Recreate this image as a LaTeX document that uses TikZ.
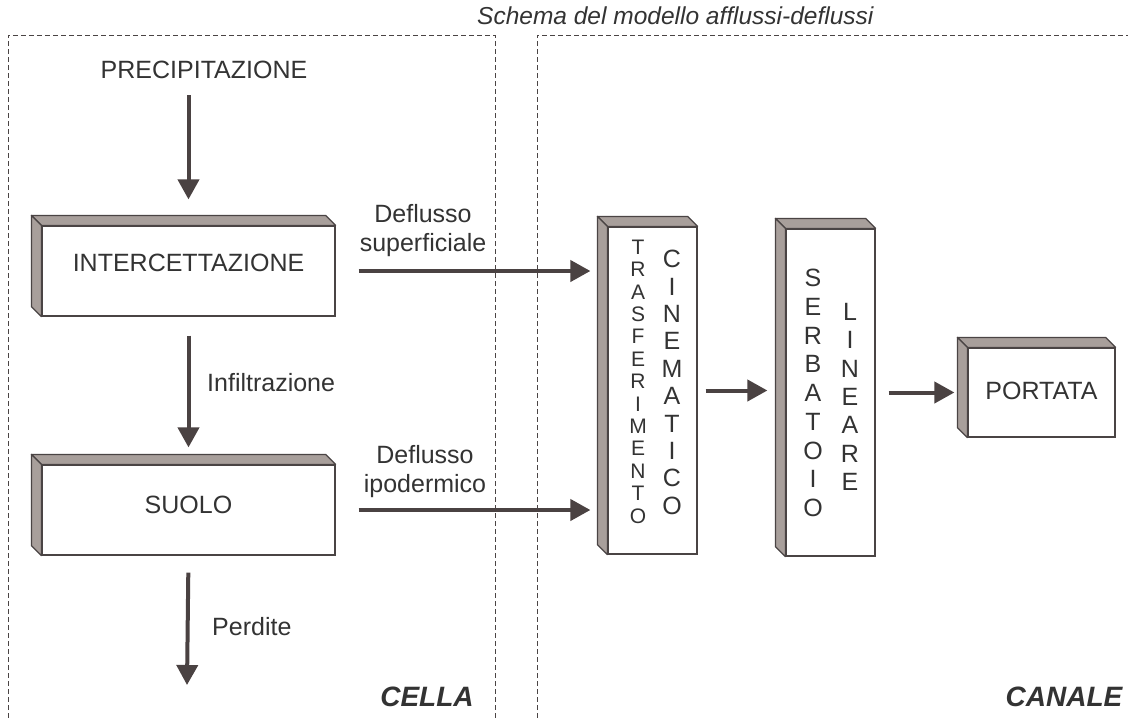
\documentclass[tikz,border=0pt]{standalone}
\usepackage{fontspec}
\setmainfont{Liberation Sans}
\usetikzlibrary{arrows.meta,calc}
\definecolor{txt}{HTML}{333333}
\definecolor{arrc}{HTML}{4A4242}
\definecolor{shd}{HTML}{A89F9B}
\definecolor{edgec}{HTML}{4A4444}
\newcommand\mkshadow[1]{%
  \filldraw[shadeface] (#1.north west) -- ++(-10,-10) -- ($(#1.north east)+(-10,-10)$) -- (#1.north east) -- cycle;
  \filldraw[shadeface] (#1.north west) -- ++(-10,-10) -- ($(#1.south west)+(-10,-10)$) -- (#1.south west) -- cycle;
}
\begin{document}
\begin{tikzpicture}[x=1pt,y=-1pt,
  lbl/.style={inner sep=0pt, text=txt, font=\fontsize{25}{29}\selectfont, align=center},
  vl/.style={inner sep=0pt, text=txt},
  frontbox/.style={draw=edgec, fill=white, line width=1.2pt, inner sep=0pt},
  shadeface/.style={draw=edgec, fill=shd, line width=1.2pt, line join=round},
  arr/.style={draw=arrc, line width=4pt, -{Triangle[width=21pt,length=20pt]}},
  dashbox/.style={draw=edgec, line width=0.9pt, dash pattern=on 5pt off 3pt},
  region/.style={inner sep=0pt, text=txt, font=\bfseries\itshape\fontsize{28}{32}\selectfont}]
\useasboundingbox (0,0) rectangle (1128,718);
\fill[white] (0,0) rectangle (1128,718);

% dashed regions
\draw[dashbox] (8,718) -- (8,35) -- (495,35) -- (495,718);
\draw[dashbox] (537,718) -- (537,35) -- (1128,35);

% title
\node[inner sep=0pt, text=txt, anchor=west, font=\itshape\fontsize{24.5}{28}\selectfont] (title) at (477,16) {Schema del modello afflussi-deflussi};

% boxes
\node[frontbox, minimum width=293pt, minimum height=90pt] (inter) at (188.5,271) {};
\mkshadow{inter}
\node[lbl] (intert) at (188.5,263) {INTERCETTAZIONE};

\node[frontbox, minimum width=293pt, minimum height=90pt] (suolo) at (188.5,510) {};
\mkshadow{suolo}
\node[lbl] (suolot) at (188.5,505) {SUOLO};

\node[frontbox, minimum width=89pt, minimum height=327pt] (trasf) at (652.5,390.5) {};
\mkshadow{trasf}

\node[frontbox, minimum width=89pt, minimum height=327pt] (serb) at (830.5,392.5) {};
\mkshadow{serb}

\node[frontbox, minimum width=147pt, minimum height=89pt] (port) at (1041.5,392.5) {};
\mkshadow{port}
\node[lbl] (portt) at (1041.5,391) {PORTATA};

% vertical letters
\foreach \l [count=\i from 0] in {T,R,A,S,F,E,R,I,M,E,N,T,O}
  \node[vl, font=\fontsize{21}{24}\selectfont] (tr\i) at (638,{247+22.4*\i}) {\l};
\foreach \l [count=\i from 0] in {C,I,N,E,M,A,T,I,C,O}
  \node[vl, font=\fontsize{25}{29}\selectfont] (ci\i) at (672,{259+27.4*\i}) {\l};
\foreach \l [count=\i from 0] in {S,E,R,B,A,T,O,I,O}
  \node[vl, font=\fontsize{25}{29}\selectfont] (se\i) at (813,{278+28.75*\i}) {\l};
\foreach \l [count=\i from 0] in {L,I,N,E,A,R,E}
  \node[vl, font=\fontsize{25}{29}\selectfont] (li\i) at (850,{312+28.3*\i}) {\l};

% labels
\node[lbl] (prec) at (204,70) {PRECIPITAZIONE};
\node[lbl, anchor=west] (infil) at (207,383) {Infiltrazione};
\node[lbl, anchor=west] (perd) at (212,627) {Perdite};
\node[lbl] (defsup) at (423,231) {Deflusso\\superficiale};
\node[lbl] (defipo) at (425,472) {Deflusso\\ipodermico};
\node[region] (cella) at (427,697) {CELLA};
\node[region] (canale) at (1064,697) {CANALE};

% connectors
\coordinate (perdend) at (187,685);
\draw[arr, shorten <=16pt, shorten >=26pt] (inter.north |- prec.south) -- (inter.north);
\draw[arr, shorten <=19pt, shorten >=17pt] (inter.south) -- (suolo.north);
\draw[arr, shorten <=17pt] (suolo.south) -- (perdend);
\draw[arr, shorten <=23pt, shorten >=17pt] (inter.east) -- (inter.east -| trasf.west);
\draw[arr, shorten <=23pt, shorten >=17pt] (suolo.east) -- (suolo.east -| trasf.west);
\draw[arr, shorten <=8pt, shorten >=18pt] (trasf.east) -- (trasf.east -| serb.west);
\draw[arr, shorten <=13pt, shorten >=13pt] (serb.east) -- (serb.east -| port.west);
\end{tikzpicture}
\end{document}
